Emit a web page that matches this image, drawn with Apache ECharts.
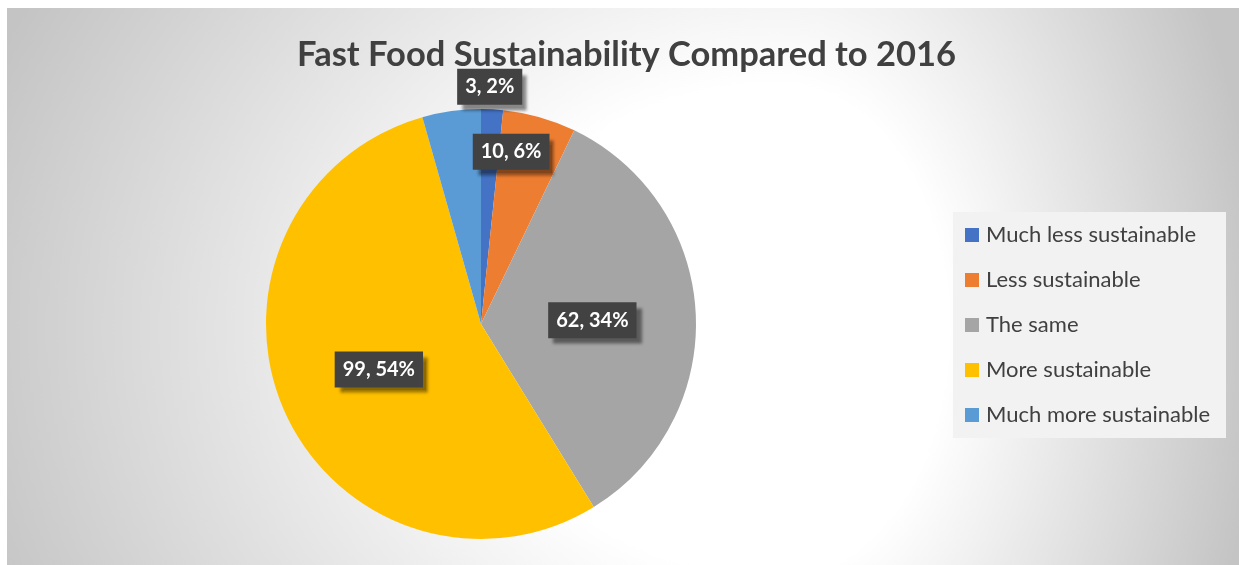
<!DOCTYPE html>
<html>
<head>
<meta charset="utf-8">
<title>Fast Food Sustainability Compared to 2016</title>
<script src="https://cdn.jsdelivr.net/npm/echarts@6/dist/echarts.min.js"></script>
<style>
  html, body { margin: 0; padding: 0; background: #fff; }
  #chart {
    width: 1239px;
    height: 565px;
    background:
      radial-gradient(ellipse 850px 700px at 773px 322px, #fff 35%, #c4c4c4 100%) 7px 8px / 773px 557px no-repeat,
      radial-gradient(ellipse 480px 700px at 0px 322px, #fff 35%, #c4c4c4 100%) 780px 8px / 459px 557px no-repeat,
      #fff;
  }
</style>
</head>
<body>
<div id="chart"></div>
<script>
// answers, in the order Excel drew them (clockwise from 12 o'clock)
const categories = ['Much less sustainable', 'Less sustainable', 'The same', 'More sustainable', 'Much more sustainable'];
const counts = [3, 10, 62, 99, 8];
const shares = ['2%', '6%', '34%', '54%', '4%']; // as printed on the chart
const colors = ['#4472c4', '#ed7d31', '#a5a5a5', '#ffc000', '#5b9bd5'];

// nudges for the labels that Excel pushed towards the rim
const labelOffsets = [[3, -127], [0, -66], [1, 2], [-1, 1], [-10, -84]];

const myChart = echarts.init(document.getElementById('chart'), null, { renderer: 'canvas' });

const pieData = categories.map((name, i) => ({
  name: name,
  value: counts[i],
  itemStyle: { color: colors[i] },
  label: { offset: labelOffsets[i] },
}));

myChart.setOption({
  animation: false,
  backgroundColor: 'transparent',
  title: {
    text: 'Fast Food Sustainability Compared to 2016',
    left: 297,
    top: 37,
    padding: 0,
    textStyle: {
      fontFamily: 'Lato',
      fontWeight: 'bold',
      fontSize: 34.5,
      color: '#404040',
    },
  },
  legend: {
    orient: 'vertical',
    left: 953,
    top: 212,
    padding: [12, 12, 12, 12],
    backgroundColor: '#f2f2f2',
    icon: 'rect',
    itemWidth: 14,
    itemHeight: 14,
    itemGap: 23,
    selectedMode: false,
    data: categories,
    textStyle: {
      fontFamily: 'Lato',
      fontSize: 22,
      lineHeight: 22,
      color: '#404040',
      width: 228,
      padding: [0, 0, 0, 2],
    },
  },
  series: [
    {
      type: 'pie',
      center: [481, 324],
      radius: 215,
      startAngle: 90,
      clockwise: true,
      avoidLabelOverlap: false,
      emphasis: { disabled: true },
      label: {
        show: true,
        position: 'inside',
        formatter: (p) => p.value + ', ' + shares[p.dataIndex],
        fontFamily: 'Lato',
        fontWeight: 'bold',
        fontSize: 20,
        lineHeight: 20,
        color: '#ffffff',
        backgroundColor: '#424242',
        padding: [8, 8, 8, 8],
        shadowColor: 'rgba(0,0,0,0.45)',
        shadowBlur: 3,
        shadowOffsetX: 5,
        shadowOffsetY: 6,
      },
      labelLine: { show: false },
      data: pieData,
    },
  ],
});
</script>
</body>
</html>
